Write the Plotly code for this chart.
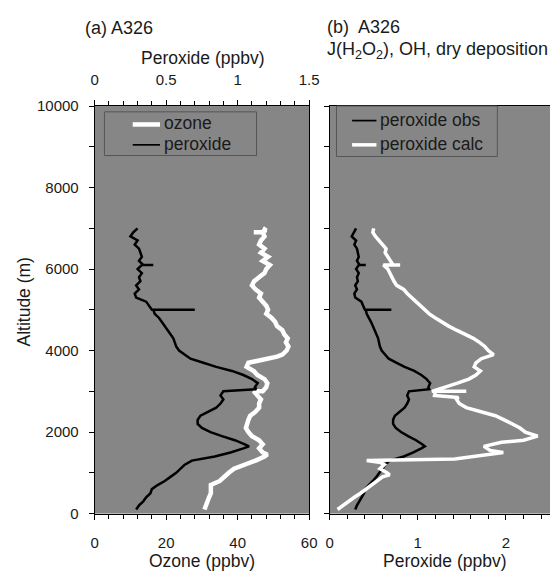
import plotly.graph_objects as go

# ---- Flight A326 vertical profiles ----
# Observed peroxide (ppbv) vs altitude (m)
obs_alt = [7000, 6900, 6800, 6700, 6600, 6500, 6400, 6300, 6200, 6100, 6100, 6100,
           6000, 5900, 5800, 5700, 5600, 5500, 5400, 5300, 5200, 5100, 5000, 5000, 5000,
           4900, 4800, 4700, 4600, 4500, 4400, 4300, 4200, 4100, 4000, 3900, 3800,
           3700, 3600, 3500, 3400, 3300, 3200, 3100, 3050, 3000, 2900, 2800, 2700,
           2600, 2500, 2400, 2300, 2200, 2100, 2000, 1900, 1800, 1700, 1650, 1600,
           1500, 1400, 1300, 1200, 1100, 1000, 900, 800, 700, 600, 500, 400, 300,
           200, 100]
obs_per = [0.30, 0.27, 0.25, 0.30, 0.28, 0.31, 0.32, 0.33, 0.31, 0.34, 0.41, 0.33,
           0.30, 0.33, 0.31, 0.32, 0.29, 0.31, 0.28, 0.29, 0.36, 0.38, 0.40, 0.70, 0.41,
           0.42, 0.45, 0.47, 0.49, 0.51, 0.53, 0.55, 0.56, 0.57, 0.59, 0.63, 0.67,
           0.76, 0.85, 0.96, 1.04, 1.10, 1.14, 1.12, 1.13, 0.90, 0.88, 0.90, 0.88,
           0.85, 0.80, 0.74, 0.72, 0.72, 0.75, 0.81, 0.89, 0.98, 1.05, 1.08, 1.04,
           0.95, 0.84, 0.68, 0.63, 0.60, 0.57, 0.53, 0.49, 0.44, 0.40, 0.39, 0.36, 0.34,
           0.31, 0.29]

# Ozone (ppbv) vs altitude (m)
oz_alt = [7000, 6950, 6900, 6900, 6900, 6800, 6700, 6600, 6500, 6400, 6300, 6200,
          6100, 6000, 5900, 5800, 5700, 5600, 5500, 5400, 5300, 5200, 5100, 5000,
          4900, 4800, 4700, 4600, 4500, 4400, 4300, 4200, 4100, 4000, 3900, 3850,
          3800, 3750, 3700, 3600, 3500, 3400, 3300, 3200, 3100, 3000, 3000, 2900,
          2800, 2700, 2600, 2500, 2400, 2300, 2200, 2100, 2000, 1900, 1800, 1700,
          1600, 1500, 1450, 1400, 1300, 1200, 1100, 1000, 900, 800, 700, 600, 500,
          400, 300, 200, 100]
oz_val = [47.0, 48.0, 46.0, 44.5, 47.0, 47.5, 46.5, 46.0, 47.5, 46.5, 48.5, 47.0,
          49.0, 48.0, 47.5, 46.0, 44.6, 44.0, 45.0, 46.5, 46.0, 47.0, 48.0, 48.5,
          48.0, 49.5, 50.5, 51.0, 52.5, 53.0, 54.0, 53.5, 54.2, 53.7, 52.5, 51.0,
          48.5, 46.0, 43.0, 42.5, 44.5, 45.5, 47.5, 48.3, 48.0, 47.0, 44.5, 45.5,
          46.5, 46.0, 46.0, 45.0, 43.5, 43.0, 42.5, 42.3, 43.0, 44.0, 46.0, 47.0,
          46.0, 47.0, 48.3, 47.5, 45.0, 41.5, 39.0, 37.5, 36.0, 35.0, 32.5, 32.5, 32.5,
          32.0, 31.5, 31.0, 30.7]

# Calculated peroxide (ppbv): J(H2O2), OH, dry deposition
calc_alt = [7000, 6900, 6800, 6700, 6600, 6500, 6400, 6300, 6200, 6100, 6100, 6100,
            6000, 5900, 5800, 5700, 5600, 5500, 5400, 5300, 5200, 5100, 5000, 4900,
            4800, 4700, 4600, 4500, 4400, 4300, 4200, 4100, 4000, 3900, 3800, 3700,
            3600, 3500, 3400, 3300, 3200, 3100, 3050, 3000, 3000, 3000, 2900, 2850,
            2800, 2700, 2600, 2500, 2400, 2300, 2200, 2100, 2000, 1900, 1800, 1750,
            1650, 1550, 1500, 1450, 1400, 1340, 1300, 1250, 1200, 1100, 1000, 950,
            900, 800, 700, 600, 500, 400, 300, 200, 100]
calc_per = [0.50, 0.49, 0.52, 0.56, 0.59, 0.64, 0.63, 0.66, 0.70, 0.72, 0.80, 0.61,
            0.66, 0.68, 0.70, 0.73, 0.76, 0.84, 0.88, 0.93, 0.99, 1.03, 1.08, 1.13,
            1.20, 1.27, 1.35, 1.44, 1.54, 1.63, 1.70, 1.76, 1.80, 1.86, 1.72, 1.66,
            1.64, 1.71, 1.66, 1.58, 1.45, 1.31, 1.25, 1.16, 1.55, 1.20, 1.19, 1.46,
            1.44, 1.47, 1.55, 1.72, 1.88, 1.98, 2.08, 2.16, 2.22, 2.36, 2.20, 1.95,
            1.75, 1.82, 1.97, 1.80, 1.68, 1.42, 0.42, 0.58, 0.62, 0.57, 0.65, 0.68,
            0.60, 0.54, 0.48, 0.42, 0.35, 0.28, 0.22, 0.15, 0.09]

alt_ticks = [0, 2000, 4000, 6000, 8000, 10000]
alt_labels = ["0", "2000", "4000", "6000", "8000", "10000"]

W, H = 560, 573
FONT = "Liberation Sans, Arial, sans-serif"
TXT = "#1a1a1a"
BG = "#868686"
OBS_W, OZ_W, CALC_W = 2.5, 4.5, 3.5


def px(x):
    return x / W


def py(y):
    return 1 - y / H


left_dom = [px(93), px(313)]
right_dom = [px(334), 1.0]
y_dom = [py(520), py(100)]

fig = go.Figure()

# left panel: ozone (bottom axis) and observed peroxide (top axis)
fig.add_trace(go.Scatter(x=oz_val, y=oz_alt, mode="lines", name="ozone",
                         line=dict(color="white", width=OZ_W), xaxis="x", yaxis="y"))
fig.add_trace(go.Scatter(x=obs_per, y=obs_alt, mode="lines", name="peroxide",
                         line=dict(color="black", width=OBS_W), xaxis="x3", yaxis="y"))
# right panel: observed vs calculated peroxide
fig.add_trace(go.Scatter(x=obs_per, y=obs_alt, mode="lines", name="peroxide obs",
                         line=dict(color="black", width=OBS_W), xaxis="x2", yaxis="y2"))
fig.add_trace(go.Scatter(x=calc_per, y=calc_alt, mode="lines", name="peroxide calc",
                         line=dict(color="white", width=CALC_W), xaxis="x2", yaxis="y2"))

axis_common = dict(showline=True, linecolor="black", linewidth=1, ticks="outside",
                   tickcolor="black", ticklen=5, showgrid=False, zeroline=False,
                   tickfont=dict(size=15, color=TXT, family=FONT))

fig.update_layout(
    width=W, height=H,
    margin=dict(l=0, r=0, t=0, b=0),
    paper_bgcolor="white",
    plot_bgcolor=BG,
    font=dict(family=FONT, size=15, color=TXT),
    showlegend=False,
    xaxis=dict(domain=left_dom, range=[0, 60], anchor="y",
               tickvals=[0, 20, 40, 60], ticktext=["0", "20", "40", "60"],
               ticklabelstandoff=10,
               minor=dict(dtick=4, ticks="outside", ticklen=4, tickcolor="black"),
               **axis_common),
    xaxis3=dict(domain=left_dom, range=[0, 1.5], anchor="y", overlaying="x",
                side="top", tickvals=[0, 0.5, 1, 1.5], ticktext=["0", "0.5", "1", "1.5"],
                ticklabelstandoff=9,
                minor=dict(dtick=0.1, ticks="outside", ticklen=4, tickcolor="black"),
                **axis_common),
    yaxis=dict(domain=y_dom, range=[0, 10000], anchor="x", mirror=True,
               tickvals=alt_ticks, ticktext=alt_labels, ticklabelstandoff=7,
               minor=dict(dtick=1000, ticks="outside", ticklen=5, tickcolor="black"),
               **axis_common),
    xaxis2=dict(domain=right_dom, range=[0, 2.5], anchor="y2", mirror=True,
                tickvals=[0, 1, 2], ticktext=["0", "1", "2"], ticklabelstandoff=10,
                minor=dict(dtick=0.2, ticks="outside", ticklen=4, tickcolor="black"),
                **axis_common),
    yaxis2=dict(domain=y_dom, range=[0, 10000], anchor="x2",
                tickvals=alt_ticks, showticklabels=False,
                minor=dict(dtick=1000, ticks="outside", ticklen=5, tickcolor="black"),
                **axis_common),
)


def note(text, x, y, size=17.5, xanchor="left", yanchor="middle", angle=0):
    fig.add_annotation(text=text, xref="paper", yref="paper", x=px(x), y=py(y),
                       xanchor=xanchor, yanchor=yanchor, showarrow=False,
                       textangle=angle, borderpad=0,
                       font=dict(size=size, color=TXT, family=FONT))


# axis titles
note("Peroxide (ppbv)", 204, 50, xanchor="center")
note("Ozone (ppbv)", 203, 558, xanchor="center", yanchor="top")
note("Peroxide (ppbv)", 452, 558, xanchor="center", yanchor="top")
note("Altitude (m)", 21, 302, xanchor="center", angle=-90)

# panel headings
note("(a) A326", 82, 20, size=18)
note("(b)  A326", 330, 19, size=18)
note("J(H<sub>2</sub>O<sub>2</sub>), OH, dry deposition", 330, 43, size=18)

# legend frames, key lines and labels
fig.add_shape(type="rect", xref="paper", yref="paper",
              x0=px(103), x1=px(259), y0=py(151), y1=py(106),
              line=dict(color="#555555", width=1))
fig.add_shape(type="rect", xref="paper", yref="paper",
              x0=px(341), x1=px(506), y0=py(152), y1=py(100),
              line=dict(color="#555555", width=1))

legend_rows = [
    ("ozone", "white", OZ_W, 132, 160, 119),
    ("peroxide", "black", OBS_W - 0.8, 132, 160, 140),
    ("peroxide obs", "black", OBS_W - 0.8, 357, 382, 115),
    ("peroxide calc", "white", CALC_W, 357, 382, 140),
]
for label, color, width, lx0, lx1, ly in legend_rows:
    fig.add_shape(type="line", xref="paper", yref="paper",
                  x0=px(lx0), x1=px(lx1), y0=py(ly), y1=py(ly),
                  line=dict(color=color, width=width))
    note(label, lx1 + 3, ly - 1)

fig.write_html("out.html")
